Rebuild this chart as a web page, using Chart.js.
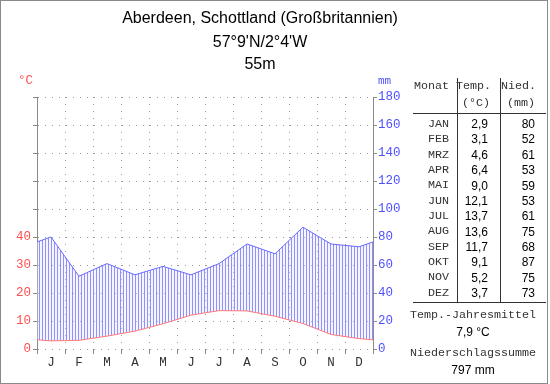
<!DOCTYPE html>
<html><head><meta charset="utf-8">
<script src="https://cdn.jsdelivr.net/npm/chart.js@4.4.0/dist/chart.umd.min.js"></script>
<style>
html,body{margin:0;padding:0;background:#fff;}
#wrap{position:relative;width:550px;height:384px;overflow:hidden;background:#fff;}
#frame{position:absolute;left:0;top:0;width:546px;height:382px;border:1px solid #8a8a8a;}
canvas{position:absolute;left:0;top:0;}
.t{position:absolute;white-space:nowrap;line-height:1;}
.title{font-family:'Liberation Sans',Arial,sans-serif;font-size:16px;color:#000;}
.mono{font-family:'Liberation Mono',monospace;font-size:11.7px;color:#333;}
.sans{font-family:'Liberation Sans',Arial,sans-serif;font-size:12px;color:#000;}
.ln{position:absolute;background:#333;}
</style></head>
<body>
<div id="wrap">
  <div id="frame"></div>
  <canvas id="c" width="550" height="384"></canvas>
</div>
<script>
// ---- data ----
const titleLines = ['Aberdeen, Schottland (Großbritannien)', "57°9'N/2°4'W", '55m'];
const monthLetters = ['J','F','M','A','M','J','J','A','S','O','N','D'];
const monthAbbr = ['JAN','FEB','MRZ','APR','MAI','JUN','JUL','AUG','SEP','OKT','NOV','DEZ'];
const temps = [2.9, 3.1, 4.6, 6.4, 9.0, 12.1, 13.7, 13.6, 11.7, 9.1, 5.2, 3.7];
const precip = [80, 52, 61, 53, 59, 53, 61, 75, 68, 87, 75, 73];
const tempTicks = [0, 10, 20, 30, 40, 50, 60, 70, 80, 90];
const tempLabeled = [0, 10, 20, 30, 40];
const precipTicks = [0, 20, 40, 60, 80, 100, 120, 140, 160, 180];

// ---- chart ----
const canvas = document.getElementById('c');
const ctx = canvas.getContext('2d');

const pc = document.createElement('canvas');
pc.width = 3; pc.height = 1;
const pctx = pc.getContext('2d');
pctx.fillStyle = 'rgba(225,225,255,0.35)';
pctx.fillRect(0, 0, 3, 1);
pctx.fillStyle = '#9090ff';
pctx.fillRect(0, 0, 1, 1);
const hatch = ctx.createPattern(pc, 'repeat');

// wrap-around: December before January and January after December (clipped at the chart edges)
const xs = [-0.5].concat(monthLetters.map((m, i) => i + 0.5), [12.5]);
const tSeries = [temps[11]].concat(temps, [temps[0]]);
const pSeries = [precip[11]].concat(precip, [precip[0]]);
const tData = tSeries.map((v, i) => ({x: xs[i], y: v}));
const pData = pSeries.map((v, i) => ({x: xs[i], y: v}));

const isInt = v => Math.abs(v - Math.round(v)) < 1e-9;

new Chart(ctx, {
  type: 'line',
  data: {
    datasets: [
      { label: 'Temp', data: tData, yAxisID: 'yT', xAxisID: 'x', borderColor: '#ff7878', borderWidth: 1,
        pointRadius: 0, fill: false, tension: 0 },
      { label: 'Nied', data: pData, yAxisID: 'yP', xAxisID: 'x', borderColor: '#6a6aff', borderWidth: 1,
        pointRadius: 0, fill: {target: 0}, backgroundColor: hatch, tension: 0 }
    ]
  },
  options: {
    responsive: false, animation: false, devicePixelRatio: 1, events: [],
    layout: { padding: { top: 97, left: 0, right: 0, bottom: 0 } },
    plugins: { legend: {display: false}, tooltip: {enabled: false}, title: {display: false} },
    scales: {
      x: {
        type: 'linear', position: 'bottom', min: 0, max: 12,
        afterBuildTicks: s => { const t = []; for (let k = 0; k <= 24; k++) t.push({value: k / 2}); s.ticks = t; },
        afterFit: s => { s.height = 35; },
        ticks: {
          autoSkip: false, maxRotation: 0, minRotation: 0, padding: 1,
          font: {family: 'Liberation Mono', size: 12.5}, color: '#333',
          callback: v => isInt(v) ? '' : monthLetters[Math.floor(v)]
        },
        grid: {
          display: true, drawOnChartArea: true, drawTicks: true, tickLength: 5, lineWidth: 1,
          color: c => (c.tick && isInt(c.tick.value)) ? '#9a9a9a' : 'rgba(0,0,0,0)',
          tickColor: c => (c.tick && isInt(c.tick.value)) ? '#8a8a8a' : 'rgba(0,0,0,0)',
          tickBorderDash: []
        },
        border: { display: false, dash: [1, 6] }
      },
      yT: {
        type: 'linear', position: 'left', min: 0, max: 90,
        afterBuildTicks: s => { s.ticks = tempTicks.map(v => ({value: v})); },
        afterFit: s => { s.width = 37; },
        ticks: {
          padding: 2, font: {family: 'Liberation Mono', size: 12.5}, color: '#ff5050',
          callback: v => tempLabeled.includes(v) ? String(v) : ''
        },
        grid: { display: true, drawOnChartArea: true, drawTicks: true, tickLength: 4, color: '#9a9a9a',
                tickColor: '#8a8a8a', tickBorderDash: [] },
        border: { display: true, color: '#8a8a8a', width: 1, dash: [1, 6] }
      },
      yP: {
        type: 'linear', position: 'right', min: 0, max: 180,
        afterBuildTicks: s => { s.ticks = precipTicks.map(v => ({value: v})); },
        afterFit: s => { s.width = 177; },
        ticks: {
          padding: 1, font: {family: 'Liberation Mono', size: 12.5}, color: '#5050ff',
          callback: v => String(v)
        },
        grid: { display: true, drawOnChartArea: false, drawTicks: true, tickLength: 4,
                tickColor: '#8a8a8a', tickBorderDash: [] },
        border: { display: true, color: '#8a8a8a', width: 1 }
      }
    }
  }
});

// ---- HTML text (title, axis units, table) ----
const wrap = document.getElementById('wrap');
function addText(txt, cls, x, cy, align, color) {
  const el = document.createElement('div');
  el.className = 't ' + cls;
  el.textContent = txt;
  if (color) el.style.color = color;
  wrap.appendChild(el);
  const fs = parseFloat(getComputedStyle(el).fontSize);
  const k = cls.indexOf('mono') >= 0 ? 0.44 : 0.49;
  el.style.top = (cy - k * fs) + 'px';
  if (align === 'right') { el.style.right = (550 - x) + 'px'; }
  else if (align === 'center') { el.style.left = x + 'px'; el.style.transform = 'translateX(-50%)'; }
  else { el.style.left = x + 'px'; }
  return el;
}
function addLine(x, y, w, h) {
  const el = document.createElement('div');
  el.className = 'ln';
  el.style.left = x + 'px'; el.style.top = y + 'px';
  el.style.width = w + 'px'; el.style.height = h + 'px';
  wrap.appendChild(el);
}

const titleY = [18, 42, 64];
titleLines.forEach((s, i) => addText(s, 'title', 260, titleY[i], 'center'));

const u1 = addText('°C', 'mono', 18, 80, 'left', '#ff5050'); u1.style.fontSize = '12.5px';
const u2 = addText('mm', 'mono', 378, 81, 'left', '#5050ff'); u2.style.fontSize = '11px';

// table
addText('Monat', 'mono', 449, 86, 'right');
addText('Temp.', 'mono', 491, 86, 'right');
addText('(°C)', 'mono', 490, 103, 'right');
addText('Nied.', 'mono', 536, 86, 'right');
addText('(mm)', 'mono', 535, 103, 'right');
addLine(457, 78, 1, 224);
addLine(500, 78, 1, 224);
addLine(413, 113, 133, 1);
addLine(413, 302, 133, 1);

const fmt = v => v.toFixed(1).replace('.', ',');
monthAbbr.forEach((m, i) => {
  const cy = 124 + i * 15.35;
  addText(m, 'mono', 449, cy, 'right');
  addText(fmt(temps[i]), 'sans', 488, cy, 'right');
  addText(String(precip[i]), 'sans', 535, cy, 'right');
});

const meanT = temps.reduce((a, b) => a + b, 0) / temps.length;
const sumP = precip.reduce((a, b) => a + b, 0);
addText('Temp.-Jahresmittel', 'mono', 473, 315, 'center');
addText(fmt(meanT) + ' °C', 'sans', 473, 332, 'center');
addText('Niederschlagssumme', 'mono', 473, 353, 'center');
addText(sumP + ' mm', 'sans', 473, 370, 'center');
</script>
</body></html>
